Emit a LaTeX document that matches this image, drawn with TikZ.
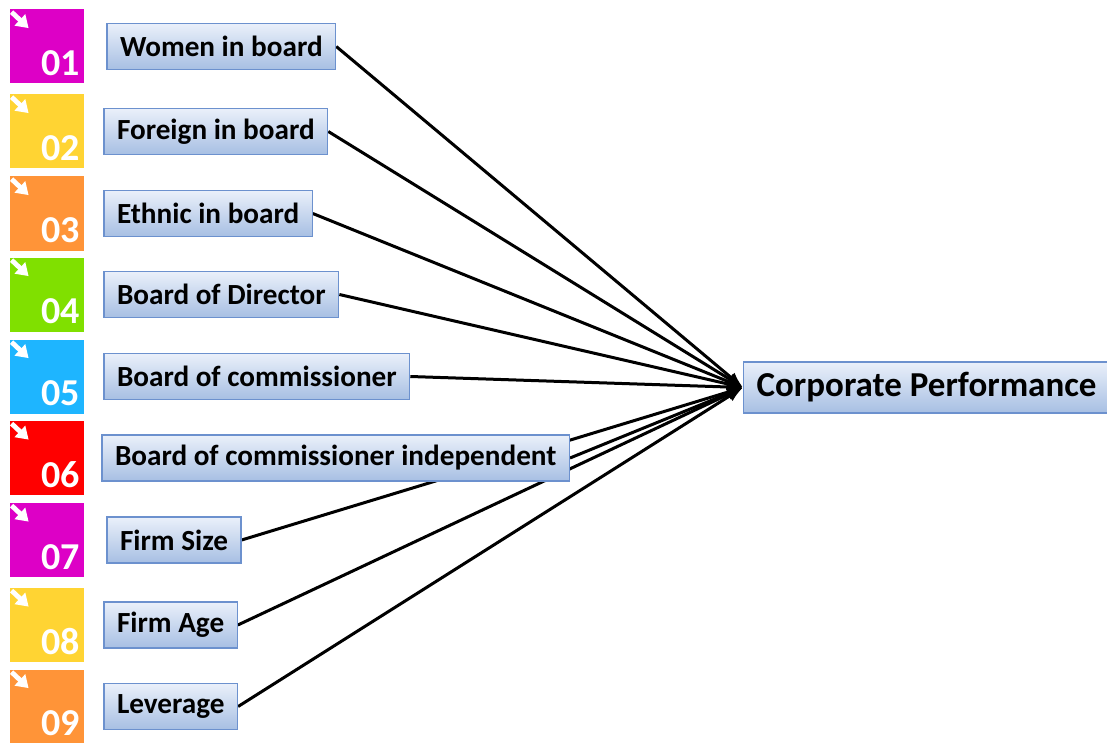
\documentclass[tikz,border=0pt]{standalone}
\usepackage{fontspec}
\setmainfont{Carlito}
\usetikzlibrary{arrows.meta}
\usetikzlibrary{backgrounds}
\usetikzlibrary{positioning}
\definecolor{tileA}{RGB}{221,0,198}
\definecolor{tileB}{RGB}{255,212,51}
\definecolor{tileC}{RGB}{255,148,56}
\definecolor{tileD}{RGB}{128,224,0}
\definecolor{tileE}{RGB}{30,181,255}
\definecolor{tileF}{RGB}{255,0,0}
\definecolor{boxtop}{RGB}{234,240,250}
\definecolor{boxbottom}{RGB}{167,191,227}
\definecolor{boxborder}{RGB}{108,145,206}
\tikzset{num tile/.style={minimum size=37pt,inner sep=0pt}}
\tikzset{num text/.style={text=white,font=\bfseries\fontsize{19}{20}\selectfont,inner sep=0pt,anchor=base east}}
\tikzset{tile arrow/.style={white,line width=2.4pt,-{Triangle[length=6pt,width=7.5pt]}}}
\tikzset{factor node/.style={draw=boxborder,line width=0.6pt,top color=boxtop,bottom color=boxbottom,minimum height=23pt,inner xsep=6.5pt,font=\bfseries\fontsize{14.6}{17}\selectfont}}
\tikzset{target node/.style={factor node,minimum height=25.5pt,font=\bfseries\fontsize{17.5}{20}\selectfont}}

\begin{document}
\begin{tikzpicture}[x=0.5pt,y=-0.5pt]
    \useasboundingbox (0,0) rectangle (1107,743);

    % numbered tiles
    \node[num tile,fill=tileA] (t_{1}) at (47,46.5) {};
    \node[num tile,fill=tileB] (t_{2}) at (47,131.5) {};
    \node[num tile,fill=tileC] (t_{3}) at (47,213.5) {};
    \node[num tile,fill=tileD] (t_{4}) at (47,294.5) {};
    \node[num tile,fill=tileE] (t_{5}) at (47,376.5) {};
    \node[num tile,fill=tileF] (t_{6}) at (47,458) {};
    \node[num tile,fill=tileA] (t_{7}) at (47,540) {};
    \node[num tile,fill=tileB] (t_{8}) at (47,625) {};
    \node[num tile,fill=tileC] (t_{9}) at (47,706.5) {};

    \node[num text] (n_{1}) at ([shift={(-4,-8)}]t_{1}.south east) {01};
    \node[num text] (n_{2}) at ([shift={(-4,-8)}]t_{2}.south east) {02};
    \node[num text] (n_{3}) at ([shift={(-4,-8)}]t_{3}.south east) {03};
    \node[num text] (n_{4}) at ([shift={(-4,-8)}]t_{4}.south east) {04};
    \node[num text] (n_{5}) at ([shift={(-4,-8)}]t_{5}.south east) {05};
    \node[num text] (n_{6}) at ([shift={(-4,-8)}]t_{6}.south east) {06};
    \node[num text] (n_{7}) at ([shift={(-4,-8)}]t_{7}.south east) {07};
    \node[num text] (n_{8}) at ([shift={(-4,-8)}]t_{8}.south east) {08};
    \node[num text] (n_{9}) at ([shift={(-4,-8)}]t_{9}.south east) {09};

    \draw[tile arrow] ([shift={(2,3)}]t_{1}.north west) -- ++(17,16);
    \draw[tile arrow] ([shift={(2,3)}]t_{2}.north west) -- ++(17,16);
    \draw[tile arrow] ([shift={(2,3)}]t_{3}.north west) -- ++(17,16);
    \draw[tile arrow] ([shift={(2,3)}]t_{4}.north west) -- ++(17,16);
    \draw[tile arrow] ([shift={(2,3)}]t_{5}.north west) -- ++(17,16);
    \draw[tile arrow] ([shift={(2,3)}]t_{6}.north west) -- ++(17,16);
    \draw[tile arrow] ([shift={(2,3)}]t_{7}.north west) -- ++(17,16);
    \draw[tile arrow] ([shift={(2,3)}]t_{8}.north west) -- ++(17,16);
    \draw[tile arrow] ([shift={(2,3)}]t_{9}.north west) -- ++(17,16);

    % factors
    \node[factor node] (f_{1}) [right = 11pt of t_{1}] {Women in board};
    \node[factor node] (f_{2}) [right = 9.5pt of t_{2}] {Foreign in board};
    \node[factor node] (f_{3}) [right = 9.5pt of t_{3}] {Ethnic in board};
    \node[factor node] (f_{4}) [right = 9.5pt of t_{4}] {Board of Director};
    \node[factor node] (f_{5}) [right = 9.5pt of t_{5}] {Board of commissioner};
    \node[factor node] (f_{6}) [right = 8.5pt of t_{6}] {Board of commissioner independent};
    \node[factor node] (f_{7}) [right = 11pt of t_{7}] {Firm Size};
    \node[factor node] (f_{8}) [right = 9.5pt of t_{8}] {Firm Age};
    \node[factor node] (f_{9}) [right = 9.5pt of t_{9}] {Leverage};

    \node[target node,anchor=west] (cp) at (743,387.5) {Corporate Performance};

    \begin{scope}[on background layer]
    \path [-{Latex[length=8pt,width=6pt]},line width=1.5pt]
    (f_{1}.east) edge (cp.west)
    (f_{2}.east) edge (cp.west)
    (f_{3}.east) edge (cp.west)
    (f_{4}.east) edge (cp.west)
    (f_{5}.east) edge (cp.west)
    (f_{6}.east) edge (cp.west)
    (f_{7}.east) edge (cp.west)
    (f_{8}.east) edge (cp.west)
    (f_{9}.east) edge (cp.west);
    \end{scope}
\end{tikzpicture}
\end{document}
